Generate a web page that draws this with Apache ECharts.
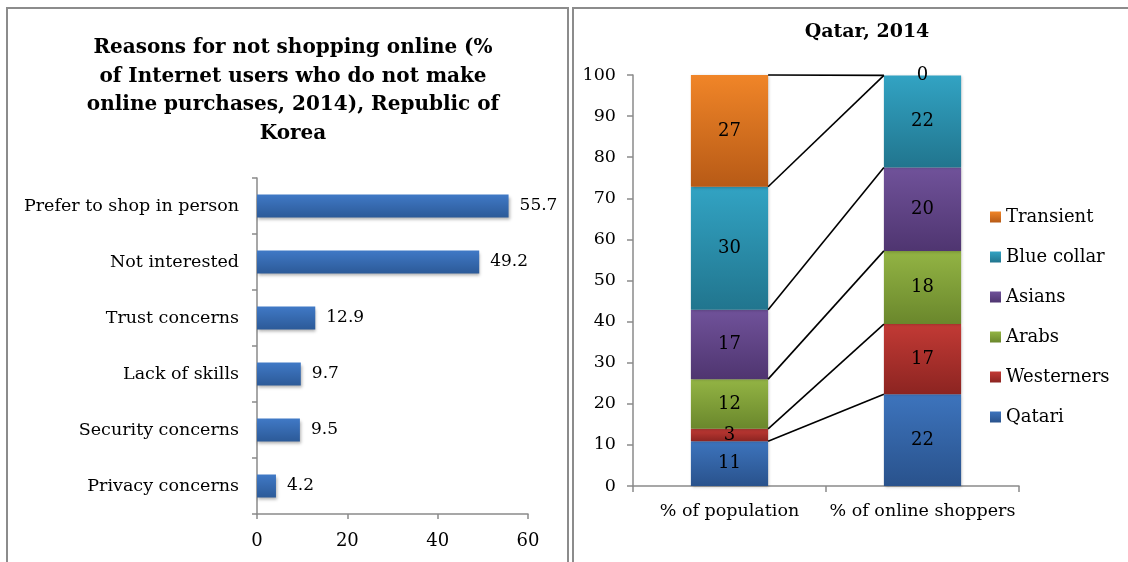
<!DOCTYPE html>
<html>
<head>
<meta charset="utf-8">
<script src="https://cdn.jsdelivr.net/npm/echarts@6/dist/echarts.min.js"></script>
<style>
  html, body { margin: 0; padding: 0; background: #fff; }
  #chart { width: 1128px; height: 562px; }
</style>
</head>
<body>
<div id="chart"></div>
<script>
  // left panel: Republic of Korea
  const reasons = ['Prefer to shop in person', 'Not interested', 'Trust concerns', 'Lack of skills', 'Security concerns', 'Privacy concerns'];
  const reasonValues = [55.7, 49.2, 12.9, 9.7, 9.5, 4.2];
  const reasonTicks = [0, 20, 40, 60];

  // right panel: Qatar
  const groups = ['% of population', '% of online shoppers'];
  const segments = ['Qatari', 'Westerners', 'Arabs', 'Asians', 'Blue collar', 'Transient'];
  const population = [10.9, 3.0, 12.1, 16.9, 29.9, 27.2];
  const shoppers = [22.3, 17.1, 17.8, 20.3, 22.4, 0];
  const qatarTicks = [0, 10, 20, 30, 40, 50, 60, 70, 80, 90, 100];

  const font = 'DejaVu Serif';
  const colors = {
    'Qatari': ['#3d74bd', '#29528c'],
    'Westerners': ['#c23a35', '#8c2421'],
    'Arabs': ['#93b444', '#6a872c'],
    'Asians': ['#70529a', '#4f3570'],
    'Blue collar': ['#32a3c3', '#21758e'],
    'Transient': ['#f08528', '#b75a16']
  };

  function grad(pair) {
    return {
      type: 'linear', x: 0, y: 0, x2: 0, y2: 1,
      colorStops: [{offset: 0, color: pair[0]}, {offset: 1, color: pair[1]}]
    };
  }

  function cumulative(arr) {
    let s = 0;
    return arr.map(v => (s += v));
  }
  const cumPop = cumulative(population);
  const cumShop = cumulative(shoppers);

  const barRatio = 0.4;

  const stackSeries = segments.map((name, i) => ({
    name: name,
    type: 'bar',
    stack: 'qatar',
    xAxisIndex: 1,
    yAxisIndex: 1,
    barWidth: (barRatio * 100) + '%',
    data: [population[i], shoppers[i]],
    itemStyle: {
      color: grad(colors[name]),
      shadowColor: 'rgba(0,0,0,0.25)',
      shadowBlur: 3,
      shadowOffsetX: 1,
      shadowOffsetY: 1
    },
    label: {
      show: true,
      position: 'inside',
      color: '#000',
      fontFamily: font,
      fontSize: 18,
      formatter: p => Math.round(p.value)
    }
  }));

  // lines joining the tops of matching segments of the two columns
  const connectors = {
    type: 'custom',
    xAxisIndex: 1,
    yAxisIndex: 1,
    z: 5,
    silent: true,
    encode: {x: 0, y: 1},
    data: segments.map((s, i) => [0, cumPop[i], cumShop[i]]),
    renderItem: function (params, api) {
      const p1 = api.coord([0, api.value(1)]);
      const p2 = api.coord([1, api.value(2)]);
      const half = api.size([1, 0])[0] * barRatio / 2;
      return {
        type: 'line',
        shape: {x1: p1[0] + half, y1: p1[1], x2: p2[0] - half, y2: p2[1]},
        style: {stroke: '#000', lineWidth: 1.6}
      };
    }
  };

  const axisGrey = {lineStyle: {color: '#8a8a8a', width: 1.5}};

  const option = {
    animation: false,
    backgroundColor: '#fff',
    textStyle: {fontFamily: font},
    graphic: [
      {type: 'rect', shape: {x: 7, y: 8, width: 561, height: 620}, style: {fill: 'none', stroke: '#8c8c8c', lineWidth: 2}},
      {type: 'rect', shape: {x: 573, y: 8, width: 620, height: 620}, style: {fill: 'none', stroke: '#8c8c8c', lineWidth: 2}}
    ],
    title: [
      {
        text: 'Reasons for not shopping online (%\nof Internet users who do not make\nonline purchases, 2014), Republic of\nKorea',
        left: 288,
        top: 29,
        textAlign: 'center',
        textStyle: {fontFamily: font, fontWeight: 'bold', fontSize: 20, lineHeight: 28.5, color: '#000'}
      },
      {
        text: 'Qatar, 2014',
        left: 862,
        top: 18,
        textAlign: 'center',
        textStyle: {fontFamily: font, fontWeight: 'bold', fontSize: 19, color: '#000'}
      }
    ],
    legend: {
      data: segments.slice().reverse(),
      orient: 'vertical',
      left: 985,
      top: 203,
      itemWidth: 11,
      itemHeight: 11,
      itemGap: 22,
      icon: 'rect',
      textStyle: {fontFamily: font, fontSize: 18, color: '#000'}
    },
    grid: [
      {left: 257, top: 178, width: 271, height: 336},
      {left: 633, top: 75, width: 386, height: 411}
    ],
    xAxis: [
      {
        type: 'value',
        gridIndex: 0,
        min: reasonTicks[0],
        max: reasonTicks[reasonTicks.length - 1],
        interval: 20,
        splitLine: {show: false},
        axisLine: Object.assign({show: true}, axisGrey),
        axisTick: Object.assign({show: true, length: 5}, axisGrey),
        axisLabel: {fontFamily: font, fontSize: 18, color: '#000', margin: 18}
      },
      {
        type: 'category',
        gridIndex: 1,
        data: groups,
        axisLine: axisGrey,
        axisTick: Object.assign({show: true, length: 6}, axisGrey),
        axisLabel: {fontFamily: font, fontSize: 17.5, color: '#000', margin: 16, interval: 0}
      }
    ],
    yAxis: [
      {
        type: 'category',
        gridIndex: 0,
        data: reasons,
        inverse: true,
        axisLine: axisGrey,
        axisTick: Object.assign({show: true, length: 5}, axisGrey),
        axisLabel: {fontFamily: font, fontSize: 17.5, color: '#000', margin: 18}
      },
      {
        type: 'value',
        gridIndex: 1,
        min: qatarTicks[0],
        max: qatarTicks[qatarTicks.length - 1],
        interval: 10,
        splitLine: {show: false},
        axisLine: Object.assign({show: true}, axisGrey),
        axisTick: Object.assign({show: true, length: 6}, axisGrey),
        axisLabel: {fontFamily: font, fontSize: 17.5, color: '#000', margin: 17}
      }
    ],
    series: [
      {
        type: 'bar',
        xAxisIndex: 0,
        yAxisIndex: 0,
        data: reasonValues,
        barWidth: 23,
        itemStyle: {
          color: grad(['#4079c6', '#2c5a98']),
          shadowColor: 'rgba(0,0,0,0.3)',
          shadowBlur: 3,
          shadowOffsetX: 1,
          shadowOffsetY: 2
        },
        label: {
          show: true,
          position: 'right',
          distance: 11,
          color: '#000',
          fontFamily: font,
          fontSize: 17
        }
      }
    ].concat(stackSeries, [connectors])
  };

  const chart = echarts.init(document.getElementById('chart'));
  chart.setOption(option);
  window.addEventListener('resize', function () {
    chart.resize();
  });
</script>
</body>
</html>
